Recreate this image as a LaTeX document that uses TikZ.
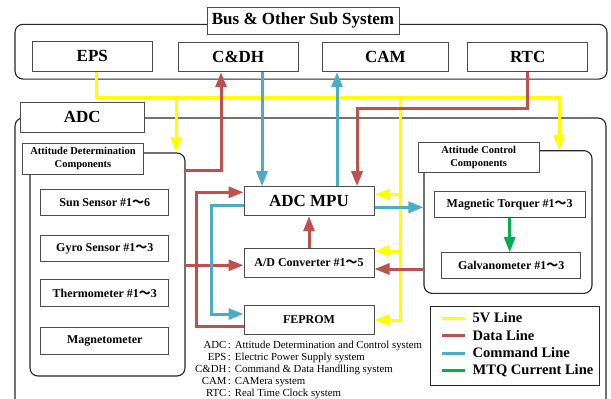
\documentclass[tikz,border=0pt]{standalone}
\usepackage{fontspec}
\setmainfont{Liberation Serif}
\newfontfamily\cjkfont{Noto Sans CJK JP}
\usetikzlibrary{arrows.meta}

\definecolor{pwrline}{RGB}{255,255,0}
\definecolor{datline}{RGB}{192,80,77}
\definecolor{cmdline}{RGB}{75,172,198}
\definecolor{mtqline}{RGB}{0,176,80}
\newcommand{\nami}{{\cjkfont ～}}

\begin{document}
\begin{tikzpicture}[x=1pt, y=-1pt,
  adcsframe/.style = {draw=black!85, line width=1.1pt, rounded corners=8pt, inner sep=0pt},
  adcsbox/.style = {draw=black!70, line width=1pt, fill=white, inner sep=0pt,
    font=\bfseries\fontsize{12}{14}\selectfont},
  adcsbig/.style = {adcsbox, font=\bfseries\fontsize{17}{20}\selectfont},
  adcssub/.style = {adcsbox, align=center, font=\bfseries\fontsize{10.5}{12.7}\selectfont},
  adcsline/.style = {line width=3pt, -{Triangle[length=15pt,width=11pt]}},
  power/.style = {adcsline, draw=pwrline},
  data/.style = {adcsline, draw=datline},
  command/.style = {adcsline, draw=cmdline},
  current/.style = {adcsline, draw=mtqline}
]
  \useasboundingbox (0,0) rectangle (611,399);

  % frames (the ADC frame runs on past the lower edge)
  \node[adcsframe, minimum width=592, minimum height=54.7] (busframe) at (311,51.7) {};
  \node[adcsframe, minimum width=591, minimum height=294] (adcframe) at (310.5,265) {};
  \node[adcsframe, minimum width=155, minimum height=223] (detframe) at (107.5,264.5) {};
  \node[adcsframe, minimum width=168, minimum height=142.6] (ctlframe) at (508,222) {};

  % frame titles
  \node[adcsbig, minimum width=192, minimum height=27] (bustitle) at (303,20.8) {Bus \& Other Sub System};
  \node[adcsbig, minimum width=123.7, minimum height=29.3] (adctitle) at (82.2,117.4) {ADC};
  \node[adcssub, minimum width=120.6, minimum height=30.7] (dettitle) at (83,158.7)
    {Attitude Determination\\Components};
  \node[adcssub, minimum width=120.7, minimum height=30.4] (ctltitle) at (478.7,157.5)
    {Attitude Control\\Components};

  % bus units
  \node[adcsbig, minimum width=120.5, minimum height=29.7] (eps) at (92.3,56.2) {EPS};
  \node[adcsbig, minimum width=120.4, minimum height=29.4] (cdh) at (238.2,57) {C\&DH};
  \node[adcsbig, minimum width=125.4, minimum height=29.4] (cam) at (385.3,57) {CAM};
  \node[adcsbig, minimum width=120.1, minimum height=29.4] (rtc) at (527.7,57) {RTC};

  % sensors
  \node[adcsbox, minimum width=128.3, minimum height=26.5] (sun) at (104.8,202.3) {Sun Sensor \#1\nami6};
  \node[adcsbox, minimum width=128.3, minimum height=26.5] (gyro) at (104.8,248.7) {Gyro Sensor \#1\nami3};
  \node[adcsbox, minimum width=128.3, minimum height=26.5] (thermo) at (104.8,293) {Thermometer \#1\nami3};
  \node[adcsbox, minimum width=128.3, minimum height=26.5] (magneto) at (104.8,341) {Magnetometer};

  % processing
  \node[adcsbig, minimum width=130, minimum height=29] (mpu) at (309,201.2) {ADC MPU};
  \node[adcsbox, minimum width=130, minimum height=29] (adconv) at (309,262.8) {A/D Converter \#1\nami5};
  \node[adcsbox, minimum width=130, minimum height=28.3] (feprom) at (309,320) {FEPROM};

  % actuators
  \node[adcsbox, minimum width=150.7, minimum height=25.6] (torquer) at (509.7,204.5) {Magnetic Torquer \#1\nami3};
  \node[adcsbox, minimum width=139, minimum height=25.6] (galvo) at (511.2,265.5) {Galvanometer \#1\nami3};

  % 5V line
  \coordinate (pwrL) at (176,97.7);
  \coordinate (pwrM) at (400,97.7);
  \coordinate (pwrR) at (559,97.7);
  \draw[power] ([xshift=3.7pt]eps.south) |- (pwrR) -- (pwrR |- ctlframe.north);
  \draw[power] (pwrL) -- (pwrL |- detframe.north);
  \draw[power] (pwrM) |- (feprom.east);
  \draw[power] ([yshift=6.7pt]mpu.east -| pwrM) -- ([yshift=6.7pt]mpu.east);
  \draw[power] ([yshift=11.8pt]adconv.east -| pwrM) -- ([yshift=11.8pt]adconv.east);

  % data lines
  \coordinate (rtcbend) at (357,108.3);
  \draw[data] ([yshift=-18pt]detframe.north east) -| ([xshift=-17.2pt]cdh.south);
  \draw[data] (rtc.south) |- (rtcbend) -- (rtcbend |- mpu.north);
  \draw[data] ([yshift=-6pt]feprom.west) -- ++(-47,0) |- ([yshift=8.9pt]mpu.west);
  \draw[data] ([yshift=-2.5pt]adconv.west -| detframe.east) -- ([yshift=-2.5pt]adconv.west);
  \draw[data] (adconv.north) -- (mpu.south);
  \draw[data] ([yshift=-6.2pt]adconv.east -| ctlframe.west) -- ([yshift=-6.2pt]adconv.east);

  % command lines
  \draw[command] ([xshift=23.8pt]cdh.south) -- ([xshift=23.8pt]cdh.south |- mpu.north);
  \draw[command] ([xshift=28pt]mpu.north) -- ([xshift=28pt]mpu.north |- cam.south);
  \draw[command] ([yshift=-3.8pt]mpu.west) -- ++(-32,0) |- ([yshift=6pt]feprom.west);
  \draw[command] ([yshift=-6.1pt]mpu.east) -- ([yshift=-6.1pt]mpu.east -| ctlframe.west);

  % MTQ current
  \draw[current] (torquer.south) -- (torquer.south |- galvo.north);

  % legend
  \node[draw=black!85, line width=1pt, fill=white, minimum width=169, minimum height=79] (legend) at (514.5,345.5) {};
  \foreach \col/\txt [count=\i] in {pwrline/5V Line, datline/Data Line, cmdline/Command Line, mtqline/MTQ Current Line}{
    \draw[line width=3pt, \col] (442,300.5+17.5*\i) -- (465,300.5+17.5*\i);
    \node[anchor=west, inner sep=0pt, font=\bfseries\fontsize{14.5}{16}\selectfont] (leg\i) at (472.5,300.5+17.5*\i) {\txt};
  }

  % abbreviations
  \node[anchor=north west, inner sep=0pt, font=\fontsize{10.8}{12.1}\selectfont] (abbr) at (195,339.5) {%
    \begin{tabular}{@{}r@{\hspace{1.5pt}:\hspace{4pt}}l@{}}
      ADC & Attitude Determination and Control system\\
      EPS & Electric Power Supply system\\
      C\&DH & Command \& Data Handlling system\\
      CAM & CAMera system\\
      RTC & Real Time Clock system
    \end{tabular}};
\end{tikzpicture}
\end{document}
